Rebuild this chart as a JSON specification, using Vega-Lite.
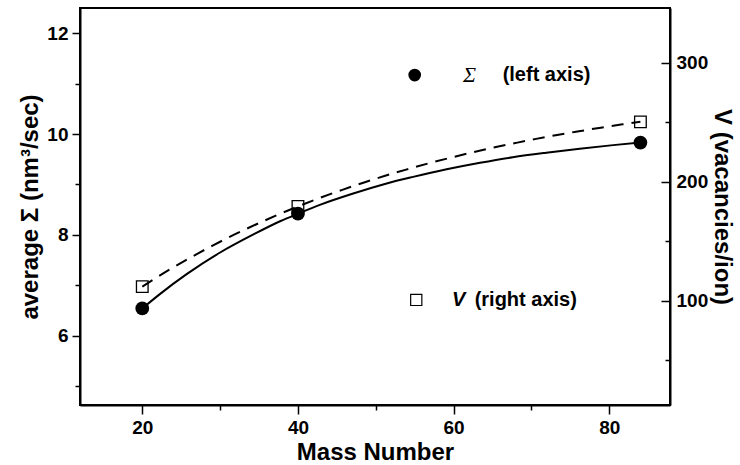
{
  "$schema": "https://vega.github.io/schema/vega-lite/v6.json",
  "width": 590,
  "height": 397,
  "autosize": {"type": "none"},
  "padding": {"left": 80, "top": 8, "right": 70, "bottom": 60},
  "background": "white",
  "config": {
    "view": {"stroke": "black", "strokeWidth": 2},
    "axis": {
      "grid": false,
      "domainColor": "black",
      "domainWidth": 2,
      "tickColor": "black",
      "tickWidth": 1.5,
      "labelFont": "Liberation Sans",
      "labelFontWeight": "bold",
      "labelFontSize": 19,
      "labelColor": "black",
      "titleFont": "Liberation Sans",
      "titleFontWeight": "bold",
      "titleFontSize": 24,
      "titleColor": "black"
    }
  },
  "encoding": {
    "x": {
      "field": "mass",
      "type": "quantitative",
      "scale": {"domain": [12, 87.8], "nice": false, "zero": false},
      "axis": {
        "title": "Mass Number",
        "values": [20, 30, 40, 50, 60, 70, 80],
        "labelExpr": "datum.value % 20 == 0 ? datum.label : ''",
        "tickSize": {"condition": {"test": "datum.value % 20 == 0", "value": 9}, "value": 5},
        "labelPadding": 4,
        "titlePadding": 3
      }
    }
  },
  "layer": [
    {
      "encoding": {
        "y": {
          "field": "value",
          "type": "quantitative",
          "scale": {"domain": [4.625, 12.5], "nice": false, "zero": false},
          "axis": {
            "orient": "left",
            "title": "average  Σ  (nm³/sec)",
            "values": [5, 6, 7, 8, 9, 10, 11, 12],
            "labelExpr": "datum.value % 2 == 0 ? datum.label : ''",
            "tickSize": {"condition": {"test": "datum.value % 2 == 0", "value": 8}, "value": 5},
            "labelPadding": 4,
            "titlePadding": 4
          }
        }
      },
      "layer": [
        {
          "data": {"values": [
            {"mass": 20, "value": 6.54},
            {"mass": 22.3, "value": 6.83},
            {"mass": 25.7, "value": 7.22},
            {"mass": 30, "value": 7.65},
            {"mass": 34.3, "value": 8.01},
            {"mass": 37.7, "value": 8.27},
            {"mass": 40, "value": 8.42},
            {"mass": 42.9, "value": 8.6},
            {"mass": 47.1, "value": 8.82},
            {"mass": 51.4, "value": 9.02},
            {"mass": 54.8, "value": 9.15},
            {"mass": 59.1, "value": 9.3},
            {"mass": 63.4, "value": 9.43},
            {"mass": 67.6, "value": 9.54},
            {"mass": 71.9, "value": 9.63},
            {"mass": 76.2, "value": 9.71},
            {"mass": 80.5, "value": 9.78},
            {"mass": 84, "value": 9.83}
          ]},
          "mark": {"type": "line", "color": "black", "strokeWidth": 2, "interpolate": "monotone"}
        },
        {
          "data": {"values": [
            {"mass": 20, "value": 6.54},
            {"mass": 40, "value": 8.42},
            {"mass": 84, "value": 9.83}
          ]},
          "mark": {"type": "point", "shape": "circle", "filled": true, "color": "black", "opacity": 1, "size": 190}
        },
        {
          "data": {"values": [{"mass": 55.0, "value": 11.17}]},
          "mark": {"type": "point", "shape": "circle", "filled": true, "color": "black", "opacity": 1, "size": 160}
        },
        {
          "data": {"values": [{"mass": 55.2, "value": 6.71}]},
          "mark": {"type": "point", "shape": "square", "filled": false, "color": "black", "opacity": 1, "size": 125, "strokeWidth": 1.2}
        },
        {
          "data": {"values": [{"mass": 61.2, "value": 11.17, "label": "Σ"}]},
          "mark": {"type": "text", "align": "left", "baseline": "middle", "font": "Liberation Serif", "fontStyle": "italic", "fontSize": 22, "color": "black"},
          "encoding": {"text": {"field": "label"}}
        },
        {
          "data": {"values": [{"mass": 66.3, "value": 11.17, "label": "(left axis)"}]},
          "mark": {"type": "text", "align": "left", "baseline": "middle", "font": "Liberation Sans", "fontWeight": "bold", "fontSize": 20, "color": "black"},
          "encoding": {"text": {"field": "label"}}
        },
        {
          "data": {"values": [{"mass": 59.8, "value": 6.71, "label": "V"}]},
          "mark": {"type": "text", "align": "left", "baseline": "middle", "font": "Liberation Sans", "fontWeight": "bold", "fontStyle": "italic", "fontSize": 20, "color": "black"},
          "encoding": {"text": {"field": "label"}}
        },
        {
          "data": {"values": [{"mass": 62.7, "value": 6.71, "label": "(right axis)"}]},
          "mark": {"type": "text", "align": "left", "baseline": "middle", "font": "Liberation Sans", "fontWeight": "bold", "fontSize": 20, "color": "black"},
          "encoding": {"text": {"field": "label"}}
        }
      ]
    },
    {
      "encoding": {
        "y": {
          "field": "value",
          "type": "quantitative",
          "scale": {"domain": [12.6, 346], "nice": false, "zero": false},
          "axis": {
            "orient": "right",
            "title": "V  (vacancies/ion)",
            "values": [50, 100, 150, 200, 250, 300],
            "labelExpr": "datum.value % 100 == 0 ? datum.label : ''",
            "tickSize": {"condition": {"test": "datum.value % 100 == 0", "value": -9}, "value": -5},
            "labelPadding": 15,
            "titlePadding": 2,
            "titleFontSize": 24
          }
        }
      },
      "layer": [
        {
          "data": {"values": [
            {"mass": 20, "value": 112},
            {"mass": 23.5, "value": 126.3},
            {"mass": 26.3, "value": 136.8},
            {"mass": 29.1, "value": 146.7},
            {"mass": 31.8, "value": 155.6},
            {"mass": 34.6, "value": 164.2},
            {"mass": 37.4, "value": 172.3},
            {"mass": 40.1, "value": 179.6},
            {"mass": 42.9, "value": 186.7},
            {"mass": 45.7, "value": 193.3},
            {"mass": 48.5, "value": 199.5},
            {"mass": 51.2, "value": 205.1},
            {"mass": 53.9, "value": 210.3},
            {"mass": 56.7, "value": 215.4},
            {"mass": 59.5, "value": 220.1},
            {"mass": 62.2, "value": 224.4},
            {"mass": 65.0, "value": 228.6},
            {"mass": 67.8, "value": 232.4},
            {"mass": 70.6, "value": 236.1},
            {"mass": 73.3, "value": 239.4},
            {"mass": 76.1, "value": 242.5},
            {"mass": 78.9, "value": 245.5},
            {"mass": 81.7, "value": 248.3},
            {"mass": 84, "value": 250.5}
          ]},
          "mark": {"type": "line", "color": "black", "strokeWidth": 2, "strokeDash": [12, 8], "interpolate": "monotone"}
        },
        {
          "data": {"values": [
            {"mass": 20, "value": 112},
            {"mass": 40, "value": 179.3},
            {"mass": 84, "value": 250.4}
          ]},
          "mark": {"type": "point", "shape": "square", "filled": false, "color": "black", "opacity": 1, "size": 135, "strokeWidth": 1.3}
        }
      ]
    }
  ],
  "resolve": {"scale": {"y": "independent"}}
}
